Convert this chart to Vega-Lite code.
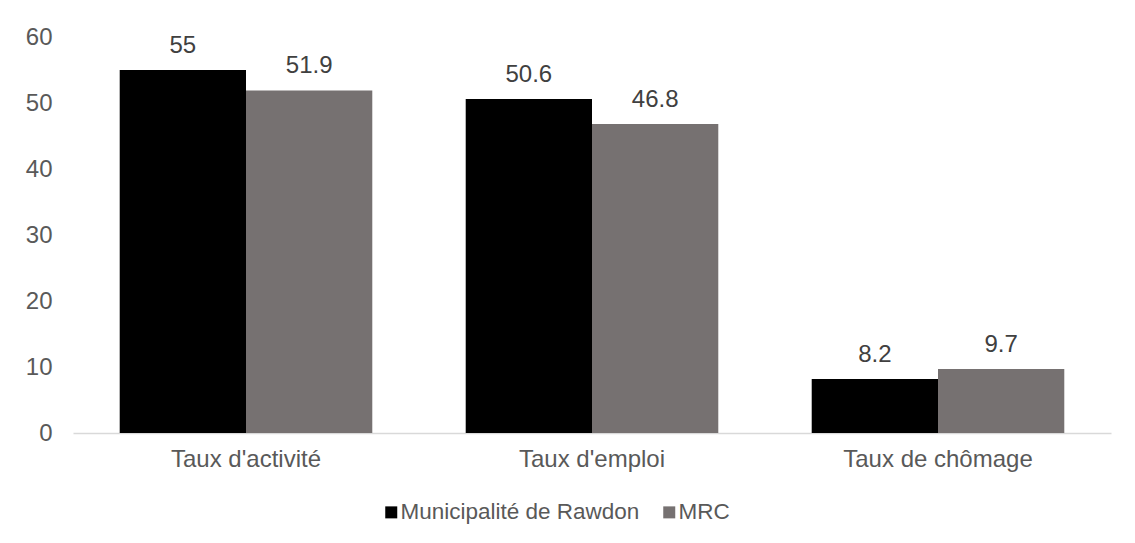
{
  "$schema": "https://vega.github.io/schema/vega-lite/v6.json",
  "width": 1038,
  "height": 396,
  "autosize": {"type": "none"},
  "padding": {"left": 73, "top": 37, "right": 24, "bottom": 110},
  "background": "white",
  "config": {"view": {"stroke": null}, "font": "Liberation Sans"},
  "data": {"values": [
    {"cat": "Taux d'activité", "serie": "Municipalité de Rawdon", "val": 55},
    {"cat": "Taux d'activité", "serie": "MRC", "val": 51.9},
    {"cat": "Taux d'emploi", "serie": "Municipalité de Rawdon", "val": 50.6},
    {"cat": "Taux d'emploi", "serie": "MRC", "val": 46.8},
    {"cat": "Taux de chômage", "serie": "Municipalité de Rawdon", "val": 8.2},
    {"cat": "Taux de chômage", "serie": "MRC", "val": 9.7}
  ]},
  "encoding": {
    "x": {"field": "cat", "type": "nominal", "sort": null,
      "scale": {"paddingInner": 0.27, "paddingOuter": 0.135},
      "axis": {"title": null, "labelAngle": 0, "labelFontSize": 24, "labelColor": "#595959", "labelPadding": 14, "ticks": false, "domainColor": "#d9d9d9", "domainWidth": 1.5, "labelLimit": 400}},
    "xOffset": {"field": "serie", "type": "nominal", "sort": ["Municipalité de Rawdon", "MRC"], "scale": {"paddingInner": 0, "paddingOuter": 0}},
    "y": {"field": "val", "type": "quantitative", "scale": {"domain": [0, 60]},
      "axis": {"title": null, "values": [0,10,20,30,40,50,60], "labelOverlap": false, "grid": false, "domain": false, "ticks": false, "labelFontSize": 24, "labelColor": "#595959", "labelPadding": 21}}
  },
  "layer": [
    {"mark": {"type": "bar"},
      "encoding": {"color": {"field": "serie", "type": "nominal", "sort": ["Municipalité de Rawdon", "MRC"],
        "scale": {"domain": ["Municipalité de Rawdon", "MRC"], "range": ["#000000", "#767171"]},
        "legend": {"title": null, "orient": "none", "direction": "horizontal", "legendX": 307, "legendY": 464, "symbolType": "square", "symbolSize": 144, "symbolStrokeWidth": 0, "labelFontSize": 22.5, "labelColor": "#595959", "columnPadding": 18, "labelOffset": -2, "labelLimit": 400}}}},
    {"mark": {"type": "text", "fontSize": 24, "color": "#404040", "baseline": "alphabetic", "dy": -17},
      "encoding": {"text": {"field": "val", "type": "quantitative"}}}
  ]
}
